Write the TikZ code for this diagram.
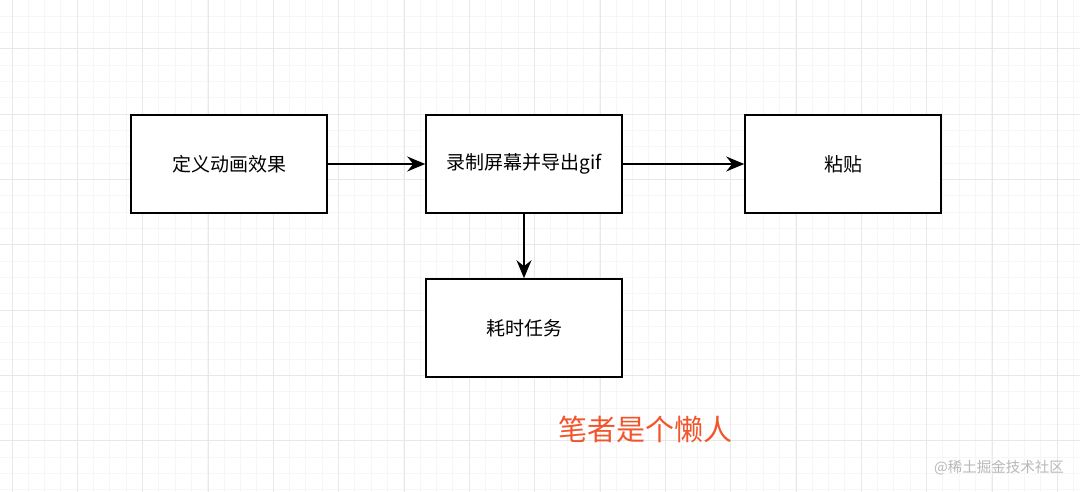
\documentclass[tikz,border=0pt]{standalone}
\usepackage{fontspec}
\newfontfamily\cjk{Noto Sans CJK SC}
\usetikzlibrary{arrows.meta}
\definecolor{minorgrid}{HTML}{F6F6F6}
\definecolor{majorgrid}{HTML}{E8E8E8}
\definecolor{redtext}{HTML}{F2552C}
\definecolor{wmark}{HTML}{B8B8B8}
\tikzset{
  box/.style={draw=black, line width=1.6pt, fill=white, minimum width=196pt, minimum height=98pt, inner sep=0pt, font=\cjk\fontsize{19}{21}\selectfont},
  conn/.style={line width=1.4pt, -{Stealth[length=18pt,width=15pt,inset=6pt]}}
}
\begin{document}
\begin{tikzpicture}[x=1pt,y=-1pt]
\useasboundingbox (0,0) rectangle (1080,492);
\fill[white] (0,0) rectangle (1080,492);
% minor grid
\foreach \i in {0,...,66} {
  \draw[minorgrid, line width=1pt] ({12-16.333+16.333*\i},0) -- ({12-16.333+16.333*\i},492);
}
\foreach \j in {0,...,31} {
  \draw[minorgrid, line width=1pt] (0,{16.333*\j}) -- (1080,{16.333*\j});
}
% major grid
\foreach \i in {0,...,16} {
  \draw[majorgrid, line width=1pt] ({12+65.333*\i},0) -- ({12+65.333*\i},492);
}
\foreach \j in {0,...,7} {
  \draw[majorgrid, line width=1pt] (0,{49-65.333+65.333*\j}) -- (1080,{49-65.333+65.333*\j});
}
\node[box] (a) at (229,164) {定义动画效果};
\node[box] (b) at (524,164) {录制屏幕并导出gif};
\node[box] (c) at (843,164) {粘贴};
\node[box] (d) at (524,328) {耗时任务};
\draw[conn] (a) -- (b);
\draw[conn] (b) -- (c);
\draw[conn] (b) -- (d);
\node[text=redtext, font=\cjk\fontsize{29}{32}\selectfont, inner sep=0pt] (t) at (645,429) {笔者是个懒人};
\node[text=wmark, font=\cjk\fontsize{14.5}{16}\selectfont, inner sep=0pt] (w) at (999,468) {@稀土掘金技术社区};
\end{tikzpicture}
\end{document}
